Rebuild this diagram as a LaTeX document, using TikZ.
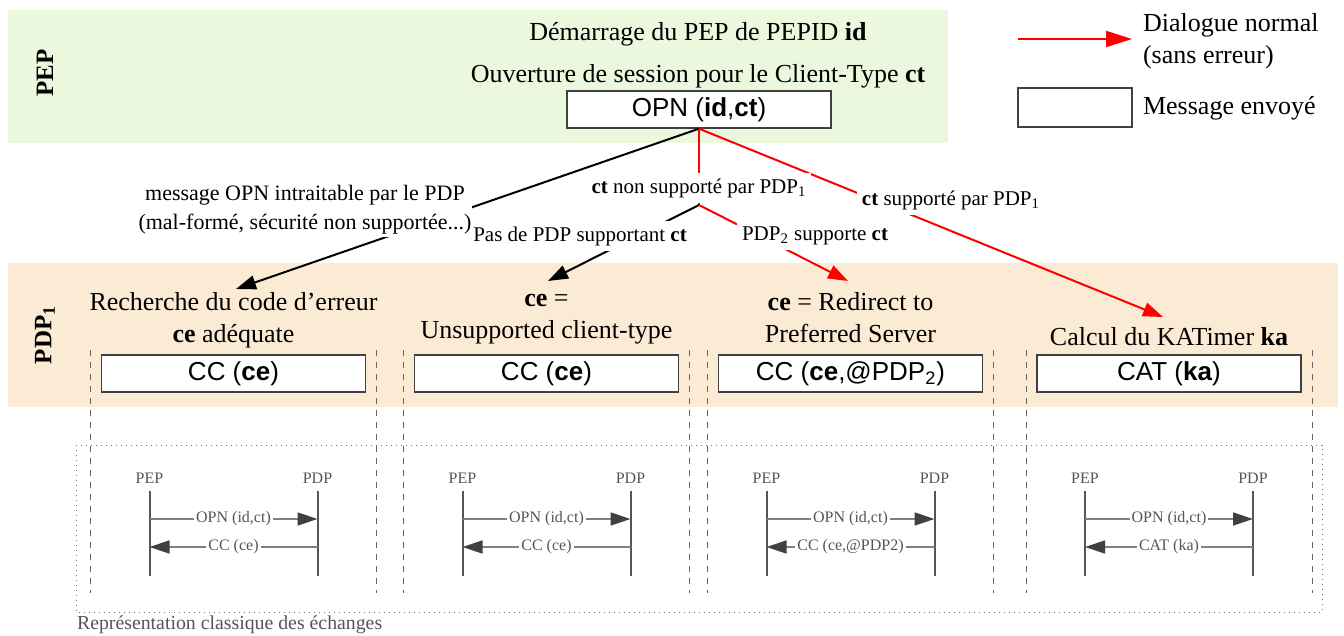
\documentclass[tikz,border=0pt]{standalone}
\usepackage{fontspec}
\setmainfont{Liberation Serif}
\newfontfamily\arialfont{Liberation Sans}
\usetikzlibrary{arrows.meta,positioning}

\definecolor{pepvert}{RGB}{236,248,222}
\definecolor{pdporange}{RGB}{252,235,212}
\definecolor{seqgris}{RGB}{85,85,85}

\tikzset{
  msg/.style={draw=black!75, fill=white, line width=0.7pt, minimum width=132pt,
    minimum height=18.5pt, inner sep=0pt, font=\arialfont\fontsize{13}{15}\selectfont},
  titre/.style={font=\fontsize{13}{16}\selectfont, align=center},
  lbl/.style={fill=white, inner sep=2.5pt, font=\fontsize{10.5}{14}\selectfont, align=center},
  ok/.style={draw=red, line width=1pt},
  ko/.style={draw=black, line width=1pt},
  pointe/.style={-{Triangle[length=10pt,width=7pt]}},
  pointille/.style={draw=black!60, dashed, line width=0.4pt},
  seqtxt/.style={text=seqgris, font=\fontsize{8}{9}\selectfont},
  vie/.style={draw=seqgris, line width=1pt},
  flux/.style={draw=black!50, line width=0.7pt, -{Triangle[length=10pt,width=6.5pt,color=black!75]}},
  fluxlbl/.style={fill=white, inner sep=1pt, text=seqgris, font=\fontsize{8}{9}\selectfont}
}

\begin{document}
\begin{tikzpicture}[x=0.5pt,y=-0.5pt]
  \useasboundingbox (0,0) rectangle (1344,636);
  \fill[white] (0,0) rectangle (1344,636);

  % bandes
  \fill[pepvert] (8,10) rectangle (948,143);
  \fill[pdporange] (8,263) rectangle (1338,407);
  \node[rotate=90, font=\bfseries\fontsize{12.5}{14}\selectfont] (bandepep) at (45,73) {PEP};
  \node[rotate=90, font=\bfseries\fontsize{12.5}{14}\selectfont] (bandepdp) at (45,335) {PDP\textsubscript{1}};

  % representation classique
  \draw[black!55, dotted, line width=0.5pt] (76,445) rectangle (1322,612);
  \node[anchor=west, text=seqgris, font=\fontsize{9.9}{11}\selectfont] (legende) at (70,625) {Représentation classique des échanges};

  \foreach \x/\rep [count=\i] in {233.5/CC (ce), 546.5/CC (ce), 850.5/{CC (ce,@PDP2)}, 1169/CAT (ka)}{
    \draw[pointille] (\x-143,350) -- (\x-143,593);
    \draw[pointille] (\x+143,350) -- (\x+143,593);
    \node[seqtxt] (pep\i) at (\x-84,478) {PEP};
    \node[seqtxt] (pdp\i) at (\x+84,478) {PDP};
    \draw[vie] (\x-84,491) -- (\x-84,576);
    \draw[vie] (\x+84,491) -- (\x+84,576);
    \coordinate (pepa\i) at (\x-84,519);
    \coordinate (pdpa\i) at (\x+84,519);
    \coordinate (pepb\i) at (\x-84,547);
    \coordinate (pdpb\i) at (\x+84,547);
    \draw[flux] (pepa\i) -- node[fluxlbl] {OPN (id,ct)} (pdpa\i);
    \draw[flux] (pdpb\i) -- node[fluxlbl] {\rep} (pepb\i);
  }

  % PEP
  \node[titre] (demarrage) at (698,34) {Démarrage du PEP de PEPID \textbf{id}};
  \node[titre] (ouverture) at (698,76) {Ouverture de session pour le Client-Type \textbf{ct}};
  \node[msg] (opn) at (699,109.5) {OPN (\textbf{id},\textbf{ct})};

  % PDP1
  \node[titre] (rech) at (233.5,320) {Recherche du code d'erreur\\\textbf{ce} adéquate};
  \node[titre] (unsup) at (546.5,319) {\textbf{ce} =\\Unsupported client-type};
  \node[titre] (redir) at (850.5,318) {\textbf{ce} = Redirect to\\Preferred Server};
  \node[titre] (katimer) at (1169,337) {Calcul du KATimer \textbf{ka}};
  \node[msg] (cc1) at (233.5,373.5) {CC (\textbf{ce})};
  \node[msg] (cc2) at (546.5,373.5) {CC (\textbf{ce})};
  \node[msg] (cc3) at (850.5,373.5) {CC (\textbf{ce},@PDP\textsubscript{2})};
  \node[msg] (cat) at (1169,373.5) {CAT (\textbf{ka})};

  % branches
  \coordinate (fourche) at (699,205);
  \coordinate (versrech) at (236,289);
  \coordinate (versunsup) at (548,281);
  \coordinate (versredir) at (848,281);
  \coordinate (verskat) at (1163,317);
  \draw[ko, pointe] (opn.south) -- (versrech);
  \draw[ok] (opn.south) -- (fourche);
  \draw[ko, pointe] (fourche) -- (versunsup);
  \draw[ok, pointe] (fourche) -- (versredir);
  \draw[ok, pointe] (opn.south) -- (verskat);

  \node[lbl] (nonsupp) at (699,188) {\textbf{ct} non supporté par PDP\textsubscript{1}};
  \node[lbl] (aucun) at (580,236) {Pas de PDP supportant \textbf{ct}};
  \node[lbl] (pdpdeux) at (815,236) {PDP\textsubscript{2} supporte \textbf{ct}};
  \node[lbl] (supp) at (951,200) {\textbf{ct} supporté par PDP\textsubscript{1}};
  \node[lbl, inner xsep=0.5pt, inner ysep=1.5pt, font=\fontsize{11}{14.5}\selectfont] (intraitable) at (305,210) {message OPN intraitable par le PDP\\(mal-formé, sécurité non supportée...)};

  % legende
  \coordinate (legdeb) at (1018,39);
  \coordinate (legfin) at (1132,39);
  \draw[ok, -{Triangle[length=13pt,width=8pt]}] (legdeb) -- (legfin);
  \node[titre, anchor=west, align=left] (legdialogue) at (1136,41) {Dialogue normal\\(sans erreur)};
  \node[draw=black!75, fill=white, line width=0.7pt, minimum width=57pt, minimum height=19.5pt] (legboite) at (1075,107.5) {};
  \node[titre, anchor=west] (legmsg) at (1136,108) {Message envoyé};
\end{tikzpicture}
\end{document}
